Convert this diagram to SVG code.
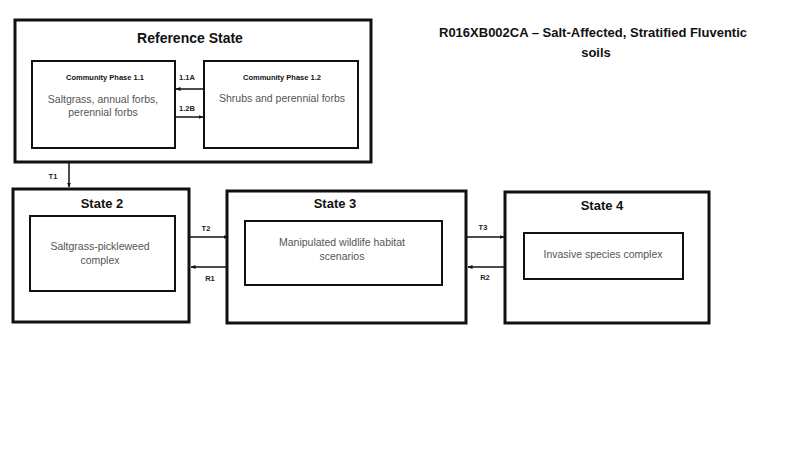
<svg xmlns="http://www.w3.org/2000/svg" width="800" height="450" viewBox="0 0 800 450">
<defs>
<marker id="ah" viewBox="0 0 10 10" refX="9" refY="5" markerWidth="5" markerHeight="5" orient="auto" markerUnits="userSpaceOnUse">
<path d="M0,1 L10,5 L0,9 z" fill="#111"/>
</marker>
</defs>
<style>
.outer{fill:#fff;stroke:#111;stroke-width:3}
.inner{fill:#fff;stroke:#111;stroke-width:2}
.ttl{font-family:"Liberation Sans",Arial,sans-serif;font-weight:bold;fill:#111;text-anchor:middle}
.body{font-family:"Liberation Sans",Arial,sans-serif;font-size:10.5px;fill:#555;text-anchor:middle}
.lbl{font-family:"Liberation Sans",Arial,sans-serif;font-weight:bold;font-size:7.5px;fill:#222;text-anchor:middle}
.conn{stroke:#111;stroke-width:1.5;fill:none;marker-end:url(#ah)}
</style>
<rect width="800" height="450" fill="#fff"/>
<g id="title">
<text class="ttl" x="593" y="37" font-size="13">R016XB002CA – Salt-Affected, Stratified Fluventic</text>
<text class="ttl" x="596" y="57" font-size="13">soils</text>
</g>
<g id="reference-state">
<rect class="outer" x="15" y="20" width="356" height="142"/>
<text class="ttl" x="190" y="43" font-size="14">Reference State</text>
</g>
<g id="phase-1-1">
<rect class="inner" x="32" y="61" width="143" height="87"/>
<text class="ttl" x="105" y="80" font-size="7.5">Community Phase 1.1</text>
<text class="body" x="103" y="103">Saltgrass, annual forbs,</text>
<text class="body" x="103" y="116">perennial forbs</text>
</g>
<g id="phase-1-2">
<rect class="inner" x="204" y="61" width="154" height="87"/>
<text class="ttl" x="282" y="80" font-size="7.5">Community Phase 1.2</text>
<text class="body" x="282" y="102">Shrubs and perennial forbs</text>
</g>
<g id="state-2">
<rect class="outer" x="13" y="189" width="176" height="133"/>
<text class="ttl" x="102" y="208" font-size="13">State 2</text>
<rect class="inner" x="30" y="216" width="145" height="75"/>
<text class="body" x="100" y="250">Saltgrass-pickleweed</text>
<text class="body" x="100" y="264">complex</text>
</g>
<g id="state-3">
<rect class="outer" x="227" y="191" width="239" height="132"/>
<text class="ttl" x="335" y="208" font-size="13">State 3</text>
<rect class="inner" x="245" y="221" width="197" height="64"/>
<text class="body" x="342" y="246">Manipulated wildlife habitat</text>
<text class="body" x="342" y="260">scenarios</text>
</g>
<g id="state-4">
<rect class="outer" x="505" y="192" width="204" height="131"/>
<text class="ttl" x="602" y="210" font-size="13">State 4</text>
<rect class="inner" x="524" y="233" width="159" height="46"/>
<text class="body" x="603" y="258">Invasive species complex</text>
</g>
<g id="connectors">
<line class="conn" x1="203" y1="89" x2="176" y2="89"/>
<line class="conn" x1="176" y1="117" x2="203" y2="117"/>
<line class="conn" x1="69" y1="163" x2="69" y2="187"/>
<line class="conn" x1="190" y1="237" x2="228" y2="237"/>
<line class="conn" x1="228" y1="267" x2="191" y2="267"/>
<line class="conn" x1="467" y1="237" x2="504" y2="237"/>
<line class="conn" x1="504" y1="267" x2="468" y2="267"/>
<text class="lbl" x="187" y="80">1.1A</text>
<text class="lbl" x="187" y="111">1.2B</text>
<text class="lbl" x="53" y="179">T1</text>
<text class="lbl" x="206" y="231">T2</text>
<text class="lbl" x="210" y="281">R1</text>
<text class="lbl" x="483" y="230">T3</text>
<text class="lbl" x="485" y="280">R2</text>
</g>
</svg>
